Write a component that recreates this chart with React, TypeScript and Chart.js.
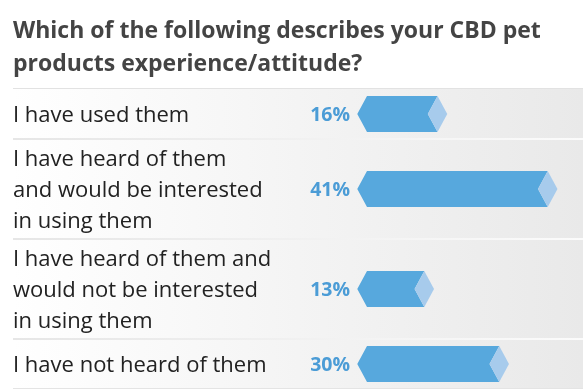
import React, { useEffect, useRef } from "react";
import { Chart, registerables } from "chart.js";

Chart.register(...registerables);

const titleLines = [
  "Which of the following describes your CBD pet",
  "products experience/attitude?",
];
const categoryLines = [
  ["I have used them"],
  ["I have heard of them", "and would be interested", "in using them"],
  ["I have heard of them and", "would not be interested", "in using them"],
  ["I have not heard of them"],
];
const percentValues = [16, 41, 13, 30];

// row sizes (in row units) derived from how many lines each label has
const rowUnits = categoryLines.map((l) => (l.length > 1 ? 2 : 1));
const rowStarts: number[] = [];
rowUnits.reduce((acc, u) => {
  rowStarts.push(acc);
  return acc + u;
}, 0);
const rowCenters = rowUnits.map((u, i) => rowStarts[i] + u / 2);
const totalUnits = rowUnits.reduce((a, b) => a + b, 0);

const DARK = "#57a8dd";
const LIGHT = "#a7cbec";
const PCT = "#4b9cd6";

const CW = 586;
const CH = 390;
const ROW_LEFT = 13;
const ROW_RIGHT = 583;

const drawPlugin = {
  id: "surveyDraw",
  beforeDatasetsDraw(chart: any) {
    const ctx = chart.ctx as CanvasRenderingContext2D;
    const y = chart.scales.y;
    ctx.save();
    ctx.fillStyle = "#ffffff";
    ctx.fillRect(0, 0, CW, CH);

    // title
    ctx.fillStyle = "#444444";
    ctx.font = "bold 23px 'Open Sans'";
    ctx.textAlign = "left";
    ctx.textBaseline = "alphabetic";
    titleLines.forEach((t, i) => ctx.fillText(t, ROW_LEFT, 38 + i * 33));

    // rows
    const grad = ctx.createLinearGradient(ROW_LEFT, 0, ROW_RIGHT, 0);
    grad.addColorStop(0, "#ffffff");
    grad.addColorStop(1, "#e9e9e9");
    const sepGrad = ctx.createLinearGradient(ROW_LEFT, 0, ROW_RIGHT, 0);
    sepGrad.addColorStop(0, "#e6e6e6");
    sepGrad.addColorStop(1, "#fbfbfb");
    rowUnits.forEach((u, i) => {
      const top = y.getPixelForValue(rowStarts[i]);
      const bot = y.getPixelForValue(rowStarts[i] + u);
      ctx.fillStyle = grad;
      ctx.fillRect(ROW_LEFT, top, ROW_RIGHT - ROW_LEFT, bot - top);
      if (i > 0) {
        ctx.fillStyle = sepGrad;
        ctx.fillRect(ROW_LEFT, top - 1, ROW_RIGHT - ROW_LEFT, 2);
      }
    });
    const top0 = y.getPixelForValue(0);
    ctx.fillStyle = "#e2e2e2";
    ctx.fillRect(ROW_LEFT, top0 - 1, ROW_RIGHT - ROW_LEFT, 1);
    const botN = y.getPixelForValue(totalUnits);
    ctx.fillStyle = "#e4e4e4";
    ctx.fillRect(ROW_LEFT, botN - 1, ROW_RIGHT - ROW_LEFT, 1);

    // category labels
    ctx.fillStyle = "#222222";
    ctx.font = "22px 'Open Sans'";
    categoryLines.forEach((lines, i) => {
      const c = y.getPixelForValue(rowCenters[i]);
      lines.forEach((ln, j) => {
        const by = c + 8 + (j - (lines.length - 1) / 2) * 31;
        ctx.fillText(ln, ROW_LEFT, by);
      });
    });
    ctx.restore();
  },
  afterDatasetsDraw(chart: any) {
    const ctx = chart.ctx as CanvasRenderingContext2D;
    const meta = chart.getDatasetMeta(0);
    ctx.save();
    meta.data.forEach((el: any, i: number) => {
      const x0 = el.base;
      const x1 = el.x;
      const yc = el.y;
      const h = el.height;
      const t = yc - h / 2;
      const b = yc + h / 2;
      const cap = h * 0.27;
      ctx.fillStyle = DARK;
      ctx.beginPath();
      ctx.moveTo(x0 - cap, yc);
      ctx.lineTo(x0, t);
      ctx.lineTo(x1, t);
      ctx.lineTo(x1 - cap, yc);
      ctx.lineTo(x1, b);
      ctx.lineTo(x0, b);
      ctx.closePath();
      ctx.fill();
      ctx.fillStyle = LIGHT;
      ctx.beginPath();
      ctx.moveTo(x1, t);
      ctx.lineTo(x1 + cap, yc);
      ctx.lineTo(x1, b);
      ctx.lineTo(x1 - cap, yc);
      ctx.closePath();
      ctx.fill();

      ctx.fillStyle = PCT;
      ctx.font = "bold 19.5px 'Open Sans'";
      ctx.textAlign = "right";
      ctx.textBaseline = "middle";
      ctx.fillText(percentValues[i] + "%", x0 - 17, yc + 1);
    });
    ctx.restore();
  },
};

export default function App() {
  const ref = useRef<HTMLCanvasElement | null>(null);
  useEffect(() => {
    if (!ref.current) return;
    const chart = new Chart(ref.current, {
      type: "bar",
      data: {
        datasets: [
          {
            data: percentValues.map((v, i) => ({ x: v, y: rowCenters[i] })),
            backgroundColor: "rgba(0,0,0,0)",
            borderWidth: 0,
            barThickness: 36,
          } as any,
        ],
      },
      options: {
        indexAxis: "y",
        responsive: false,
        animation: false,
        devicePixelRatio: 1,
        layout: { padding: { left: 367, right: 3, top: 89, bottom: 1 } },
        scales: {
          x: { type: "linear", min: 0, max: 49, display: false, offset: false },
          y: {
            type: "linear",
            min: 0,
            max: totalUnits,
            reverse: true,
            display: false,
            offset: false,
            grid: { offset: false },
          },
        },
        plugins: {
          legend: { display: false },
          tooltip: { enabled: false },
          title: { display: false },
        },
      },
      plugins: [drawPlugin],
    });
    return () => chart.destroy();
  }, []);
  return (
    <div style={{ position: "absolute", left: 0, top: 0, width: CW, height: CH, background: "#fff" }}>
      <canvas ref={ref} width={CW} height={CH} style={{ width: CW, height: CH, display: "block" }} />
    </div>
  );
}
